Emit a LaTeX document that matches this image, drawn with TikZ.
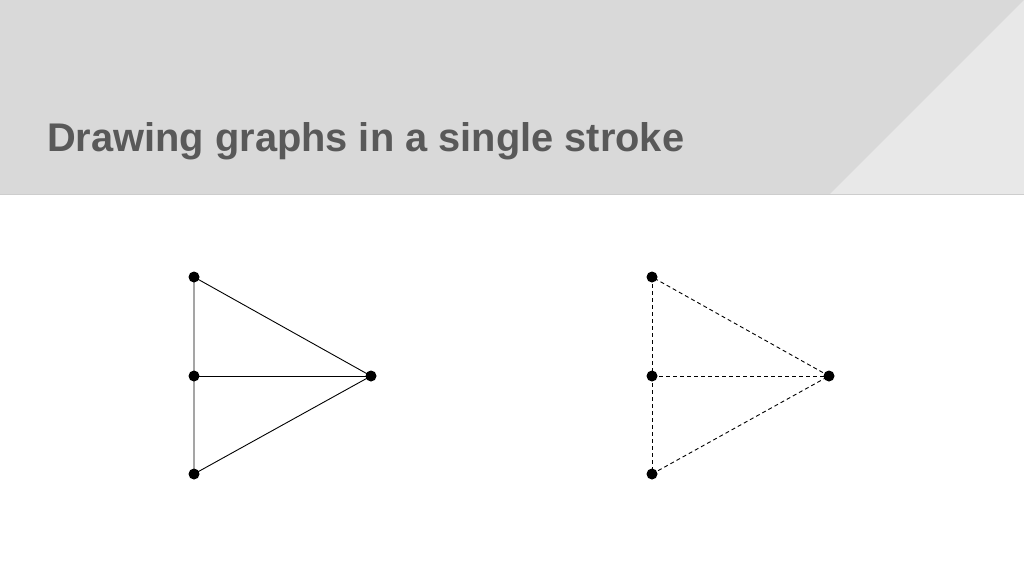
\documentclass[tikz,border=0pt]{standalone}
\usepackage{fontspec}
\setmainfont{Liberation Sans}
\definecolor{hdr}{RGB}{217,217,217}
\definecolor{hdrlight}{RGB}{232,232,232}
\definecolor{hdrline}{RGB}{205,205,205}
\definecolor{titlec}{RGB}{89,89,89}
\begin{document}
\begin{tikzpicture}[x=1pt,y=-1pt,
  vtx/.style={circle,fill=black,inner sep=0pt,minimum size=10pt},
  edge/.style={line width=0.9pt},
  dedge/.style={line width=0.9pt,dash pattern=on 4pt off 3pt}]
\useasboundingbox (0,0) rectangle (1024,576);
\fill[hdr] (0,0) rectangle (1024,194);
\fill[hdrlight] (830,194) -- (1024,194) -- (1024,0) -- cycle;
\draw[hdrline,line width=0.8pt] (0,194) -- (1024,194);
\node[anchor=base west,inner sep=0pt,xscale=0.995,font=\fontsize{40}{48}\selectfont\bfseries,text=titlec] (title) at (47,151) {Drawing graphs in a single stroke};
% left graph
\node[vtx] (a1) at (194,277) {};
\node[vtx] (b1) at (194,376) {};
\node[vtx] (c1) at (194,474) {};
\node[vtx] (d1) at (371,376) {};
\draw[edge] (a1.center) -- (b1.center) -- (c1.center) -- (d1.center) -- (a1.center);
\draw[edge] (b1.center) -- (d1.center);
% right graph
\node[vtx] (a2) at (652,277) {};
\node[vtx] (b2) at (652,376) {};
\node[vtx] (c2) at (652,474) {};
\node[vtx] (d2) at (829,376) {};
\draw[dedge] (a2.center) -- (b2.center);
\draw[dedge] (b2.center) -- (c2.center);
\draw[dedge] (c2.center) -- (d2.center);
\draw[dedge] (d2.center) -- (a2.center);
\draw[dedge] (b2.center) -- (d2.center);
\foreach \n in {a1,b1,c1,d1,a2,b2,c2,d2} \fill (\n) circle (5.5pt);
\end{tikzpicture}
\end{document}
